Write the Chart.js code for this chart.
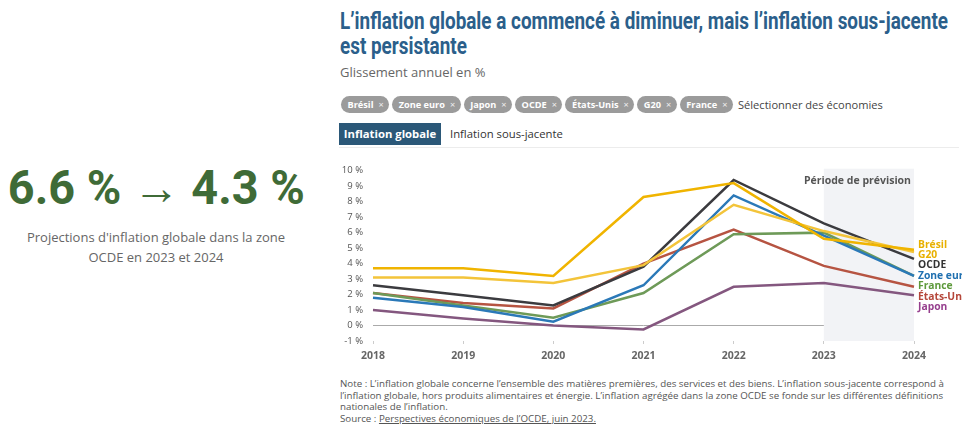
<!DOCTYPE html>
<html lang="fr">
<head>
<meta charset="utf-8">
<script src="https://cdn.jsdelivr.net/npm/chart.js@4.4.0/dist/chart.umd.min.js"></script>
<style>
  body { margin: 0; width: 962px; height: 432px; background: #fff; position: relative; overflow: hidden; font-family: "Open Sans", sans-serif; }
  .big { position: absolute; left: 0; top: 163px; width: 312px; text-align: center; font-family: Roboto, sans-serif; font-weight: bold; font-size: 48px; line-height: 50px; color: #3f6b37; white-space: nowrap; }
  .big span { display: inline-block; transform-origin: center; }
  .sub { position: absolute; left: 0; top: 227px; width: 312px; text-align: center; font-size: 13px; line-height: 20px; color: #666; }
  .title { position: absolute; left: 340px; top: 9px; font-family: Roboto, sans-serif; font-weight: bold; font-size: 23px; line-height: 25px; color: #2b5f8b; white-space: nowrap; transform-origin: left top; }
  .gliss { position: absolute; left: 340px; top: 63px; font-size: 13px; color: #666; }
  .tags { position: absolute; left: 341px; top: 96px; display: flex; gap: 3px; align-items: center; }
  .tag { background: #9b9b9b; color: #fff; border-radius: 9px; font-size: 9.2px; font-weight: bold; height: 17px; line-height: 17px; padding: 0 5.5px 0 6.5px; }
  .tag span { font-weight: normal; margin-left: 5px; opacity: 0.85; }
  .sel { font-size: 11.1px; color: #444; margin-left: 2px; }
  .tab1 { position: absolute; left: 339px; top: 123px; width: 102px; height: 22px; line-height: 22px; background: #2b5878; color: #fff; font-size: 11.3px; font-weight: bold; text-align: center; }
  .tab2 { position: absolute; left: 450px; top: 123px; line-height: 22px; font-size: 11.3px; color: #333; }
  .tabline { position: absolute; left: 339px; top: 147px; width: 620px; border-top: 1px solid #ececec; }
  .note { position: absolute; left: 340px; top: 378px; font-size: 8.9px; line-height: 11.6px; color: #555; white-space: nowrap; transform-origin: left top; }
  #wrap { position: absolute; left: 330px; top: 155px; width: 632px; height: 215px; }
</style>
</head>
<body>
<div class="big"><span id="bigtxt">6.6 % → 4.3 %</span></div>
<div class="sub">Projections d'inflation globale dans la zone<br>OCDE en 2023 et 2024</div>

<div class="title" id="title"><span id="t1">L’inflation globale a commencé à diminuer, mais l’inflation sous-jacente</span><br>est persistante</div>
<div class="gliss">Glissement annuel en %</div>
<div class="tags">
  <div class="tag">Brésil<span>×</span></div>
  <div class="tag">Zone euro<span>×</span></div>
  <div class="tag">Japon<span>×</span></div>
  <div class="tag">OCDE<span>×</span></div>
  <div class="tag">États-Unis<span>×</span></div>
  <div class="tag">G20<span>×</span></div>
  <div class="tag">France<span>×</span></div>
  <div class="sel">Sélectionner des économies</div>
</div>
<div class="tab1">Inflation globale</div>
<div class="tab2">Inflation sous-jacente</div>
<div class="tabline"></div>

<div id="wrap"><canvas id="chart"></canvas></div>

<div class="note" id="note"><span id="n1">Note : L’inflation globale concerne l’ensemble des matières premières, des services et des biens. L’inflation sous-jacente correspond à</span><br>l’inflation globale, hors produits alimentaires et énergie. L’inflation agrégée dans la zone OCDE se fonde sur les différentes définitions<br>nationales de l’inflation.<br>Source : <u>Perspectives économiques de l’OCDE, juin 2023.</u></div>

<script>
const years = ["2018", "2019", "2020", "2021", "2022", "2023", "2024"];
const forecastStart = "2023";

const bresil = [3.7, 3.7, 3.2, 8.3, 9.2, 5.6, 4.9];
const g20 = [3.1, 3.1, 2.75, 3.9, 7.8, 6.1, 4.75];
const ocde = [2.6, 1.95, 1.3, 3.8, 9.4, 6.6, 4.3];
const zoneEuro = [1.8, 1.2, 0.25, 2.6, 8.4, 5.8, 3.2];
const france = [2.1, 1.3, 0.5, 2.1, 5.9, 6.0, 3.2];
const etatsUnis = [2.1, 1.45, 1.1, 4.0, 6.2, 3.85, 2.5];
const japon = [1.0, 0.45, 0.0, -0.25, 2.5, 2.75, 1.95];

const series = [
  { label: "Brésil", data: bresil, color: "#f0b400", text: "#e8b000" },
  { label: "G20", data: g20, color: "#f3c43a", text: "#e8b000" },
  { label: "OCDE", data: ocde, color: "#3b3b3f", text: "#333" },
  { label: "Zone euro", data: zoneEuro, color: "#2b79b8", text: "#2070b0" },
  { label: "France", data: france, color: "#6e9a58", text: "#5e9a3c" },
  { label: "États-Unis", data: etatsUnis, color: "#b65442", text: "#b5473a" },
  { label: "Japon", data: japon, color: "#84577f", text: "#963f8e" }
];

// squeeze wide fonts to the condensed widths of the original
function fitWidth(el, measure, target) {
  el.style.transform = "scaleX(" + (target / measure.getBoundingClientRect().width) + ")";
}
fitWidth(document.getElementById("title"), document.getElementById("t1"), 608);
fitWidth(document.getElementById("bigtxt"), document.getElementById("bigtxt"), 297);
fitWidth(document.getElementById("note"), document.getElementById("n1"), 604);

const forecastBand = {
  id: "forecastBand",
  beforeDatasetsDraw(c) {
    const { ctx, chartArea, scales } = c;
    const x1 = scales.x.getPixelForValue(years.indexOf(forecastStart));
    const x2 = scales.x.getPixelForValue(years.length - 1);
    ctx.save();
    ctx.fillStyle = "#f2f3f6";
    ctx.fillRect(x1, chartArea.top - 2, x2 - x1, chartArea.bottom - chartArea.top + 2);
    ctx.fillStyle = "#555";
    ctx.font = "bold 10.5px 'Open Sans'";
    ctx.textAlign = "right";
    ctx.textBaseline = "middle";
    ctx.fillText("Période de prévision", x2 - 3, chartArea.top + 10);
    ctx.restore();
  }
};

const endLabels = {
  id: "endLabels",
  afterDatasetsDraw(c) {
    const { ctx, scales } = c;
    const last = years.length - 1;
    const items = series.map(s => ({ s, y: scales.y.getPixelForValue(s.data[last]) }));
    const gap = 10.3;
    let prev = null;
    items.forEach((it, i) => {
      it.ly = i === 0 ? it.y - 5 : Math.max(it.y, prev + gap);
      prev = it.ly;
    });
    const x = scales.x.getPixelForValue(last) + 4;
    ctx.save();
    ctx.font = "bold 10.3px 'Open Sans'";
    ctx.textBaseline = "middle";
    items.forEach(it => {
      ctx.fillStyle = it.s.text;
      ctx.fillText(it.s.label, x, it.ly);
    });
    ctx.restore();
  }
};

new Chart(document.getElementById("chart"), {
  type: "line",
  data: {
    labels: years,
    datasets: series.map(s => ({
      label: s.label,
      data: s.data,
      borderColor: s.color,
      borderWidth: 2.5,
      pointRadius: 0,
      tension: 0,
      fill: false
    }))
  },
  options: {
    responsive: true,
    maintainAspectRatio: false,
    animation: false,
    layout: { padding: { top: 12, right: 48, bottom: 7, left: 0 } },
    plugins: { legend: { display: false }, tooltip: { enabled: false } },
    scales: {
      x: {
        offset: false,
        border: { display: false },
        grid: { drawOnChartArea: false, tickLength: 3, color: "#ccc" },
        ticks: { color: "#666", font: { family: "Open Sans", size: 10.5, weight: "bold" }, padding: 6, maxRotation: 0 },
        afterFit: s => { s.height = 22; }
      },
      y: {
        min: -1,
        max: 10,
        border: { display: false },
        grid: { color: ctx => ctx.tick.value === 0 ? "#aaa" : "rgba(0,0,0,0)", lineWidth: 1, drawTicks: false },
        ticks: { stepSize: 1, color: "#555", font: { family: "Open Sans", size: 9.5 }, padding: 10, callback: v => v + " %" },
        afterFit: s => { s.width = 43; }
      }
    }
  },
  plugins: [forecastBand, endLabels]
});
</script>
</body>
</html>
